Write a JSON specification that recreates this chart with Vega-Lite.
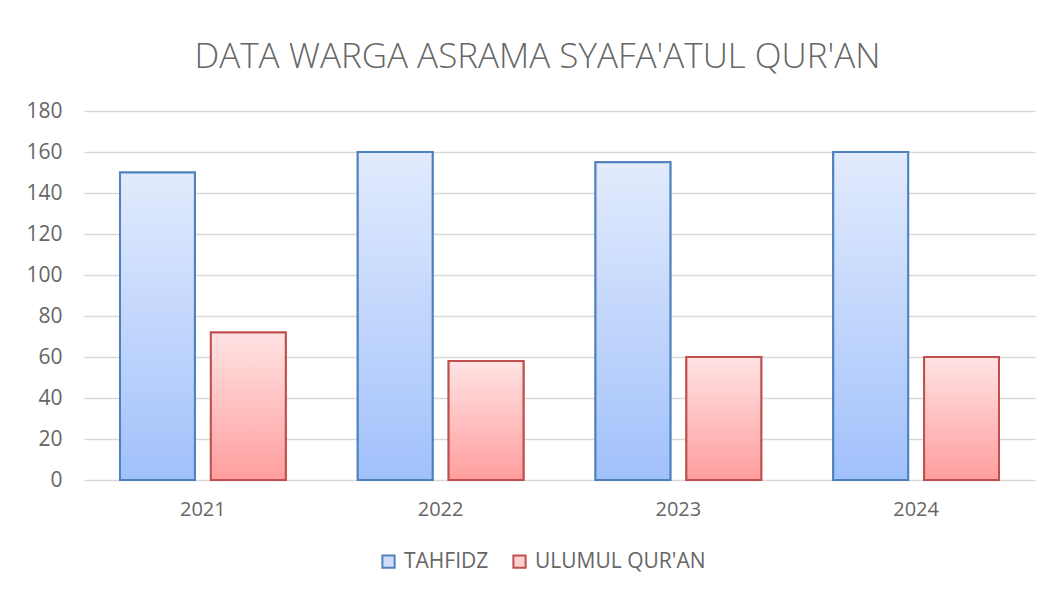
{
  "$schema": "https://vega.github.io/schema/vega-lite/v6.json",
  "autosize": "none",
  "width": 951,
  "height": 369,
  "padding": {"left": 84, "top": 111, "right": 22, "bottom": 114},
  "background": "white",
  "title": {
    "text": "DATA WARGA ASRAMA SYAFA'ATUL QUR'AN",
    "font": "Open Sans",
    "fontSize": 35,
    "fontWeight": 300,
    "color": "#666666",
    "anchor": "middle",
    "dx": -22,
    "offset": 25
  },
  "data": {
    "values": [
      {"year": "2021", "series": "TAHFIDZ", "value": 150},
      {"year": "2021", "series": "ULUMUL QUR'AN", "value": 72},
      {"year": "2022", "series": "TAHFIDZ", "value": 160},
      {"year": "2022", "series": "ULUMUL QUR'AN", "value": 58},
      {"year": "2023", "series": "TAHFIDZ", "value": 155},
      {"year": "2023", "series": "ULUMUL QUR'AN", "value": 60},
      {"year": "2024", "series": "TAHFIDZ", "value": 160},
      {"year": "2024", "series": "ULUMUL QUR'AN", "value": 60}
    ]
  },
  "encoding": {
    "x": {
      "field": "year", "type": "nominal",
      "scale": {"paddingInner": 0, "paddingOuter": 0},
      "axis": {"title": null, "labelAngle": 0, "domain": false, "ticks": false, "labelPadding": 19,
               "labelFont": "Open Sans", "labelFontSize": 20, "labelColor": "#666666"}
    },
    "xOffset": {
      "field": "series", "type": "nominal",
      "scale": {"domain": ["TAHFIDZ", "ULUMUL QUR'AN"], "paddingInner": 0.176, "paddingOuter": 0.396}
    },
    "y": {
      "field": "value", "type": "quantitative",
      "scale": {"domain": [0, 180], "nice": false},
      "axis": {"title": null, "values": [0,20,40,60,80,100,120,140,160,180], "domain": false, "ticks": false,
               "labelPadding": 22, "labelFont": "Open Sans", "labelFontSize": 21, "labelColor": "#666666",
               "gridColor": "#d9d9d9", "gridWidth": 1.5}
    }
  },
  "layer": [
    {
      "mark": {"type": "bar", "strokeWidth": 2},
      "encoding": {
        "fill": {
          "field": "series", "type": "nominal",
          "scale": {"domain": ["TAHFIDZ", "ULUMUL QUR'AN"], "range": ["#cfdffb", "#fdcfcf"]},
          "legend": {
            "title": null, "orient": "none", "direction": "horizontal",
            "legendX": 294, "legendY": 440,
            "symbolType": "square", "symbolSize": 150, "symbolStrokeWidth": 2,
            "labelFont": "Open Sans", "labelFontSize": 21, "labelColor": "#666666", "labelLimit": 400,
            "columnPadding": 20, "labelOffset": 5
          }
        },
        "stroke": {
          "field": "series", "type": "nominal",
          "scale": {"domain": ["TAHFIDZ", "ULUMUL QUR'AN"], "range": ["#4f81bd", "#c0504d"]},
          "legend": {
            "title": null, "orient": "none", "direction": "horizontal",
            "legendX": 294, "legendY": 440,
            "symbolType": "square", "symbolSize": 150, "symbolStrokeWidth": 2,
            "labelFont": "Open Sans", "labelFontSize": 21, "labelColor": "#666666", "labelLimit": 400,
            "columnPadding": 20, "labelOffset": 5
          }
        }
      }
    },
    {
      "transform": [{"filter": "datum.series === 'TAHFIDZ'"}],
      "mark": {
        "type": "bar", "stroke": "#4f81bd", "strokeWidth": 2,
        "fill": {"gradient": "linear", "x1": 0, "y1": 0, "x2": 0, "y2": 1,
                 "stops": [{"offset": 0, "color": "#e2ebfd"}, {"offset": 1, "color": "#a1c1fb"}]}
      }
    },
    {
      "transform": [{"filter": "datum.series === \"ULUMUL QUR'AN\""}],
      "mark": {
        "type": "bar", "stroke": "#c0504d", "strokeWidth": 2,
        "fill": {"gradient": "linear", "x1": 0, "y1": 0, "x2": 0, "y2": 1,
                 "stops": [{"offset": 0, "color": "#ffe3e3"}, {"offset": 1, "color": "#ff9e9e"}]}
      }
    }
  ],
  "config": {"view": {"stroke": null}}
}
